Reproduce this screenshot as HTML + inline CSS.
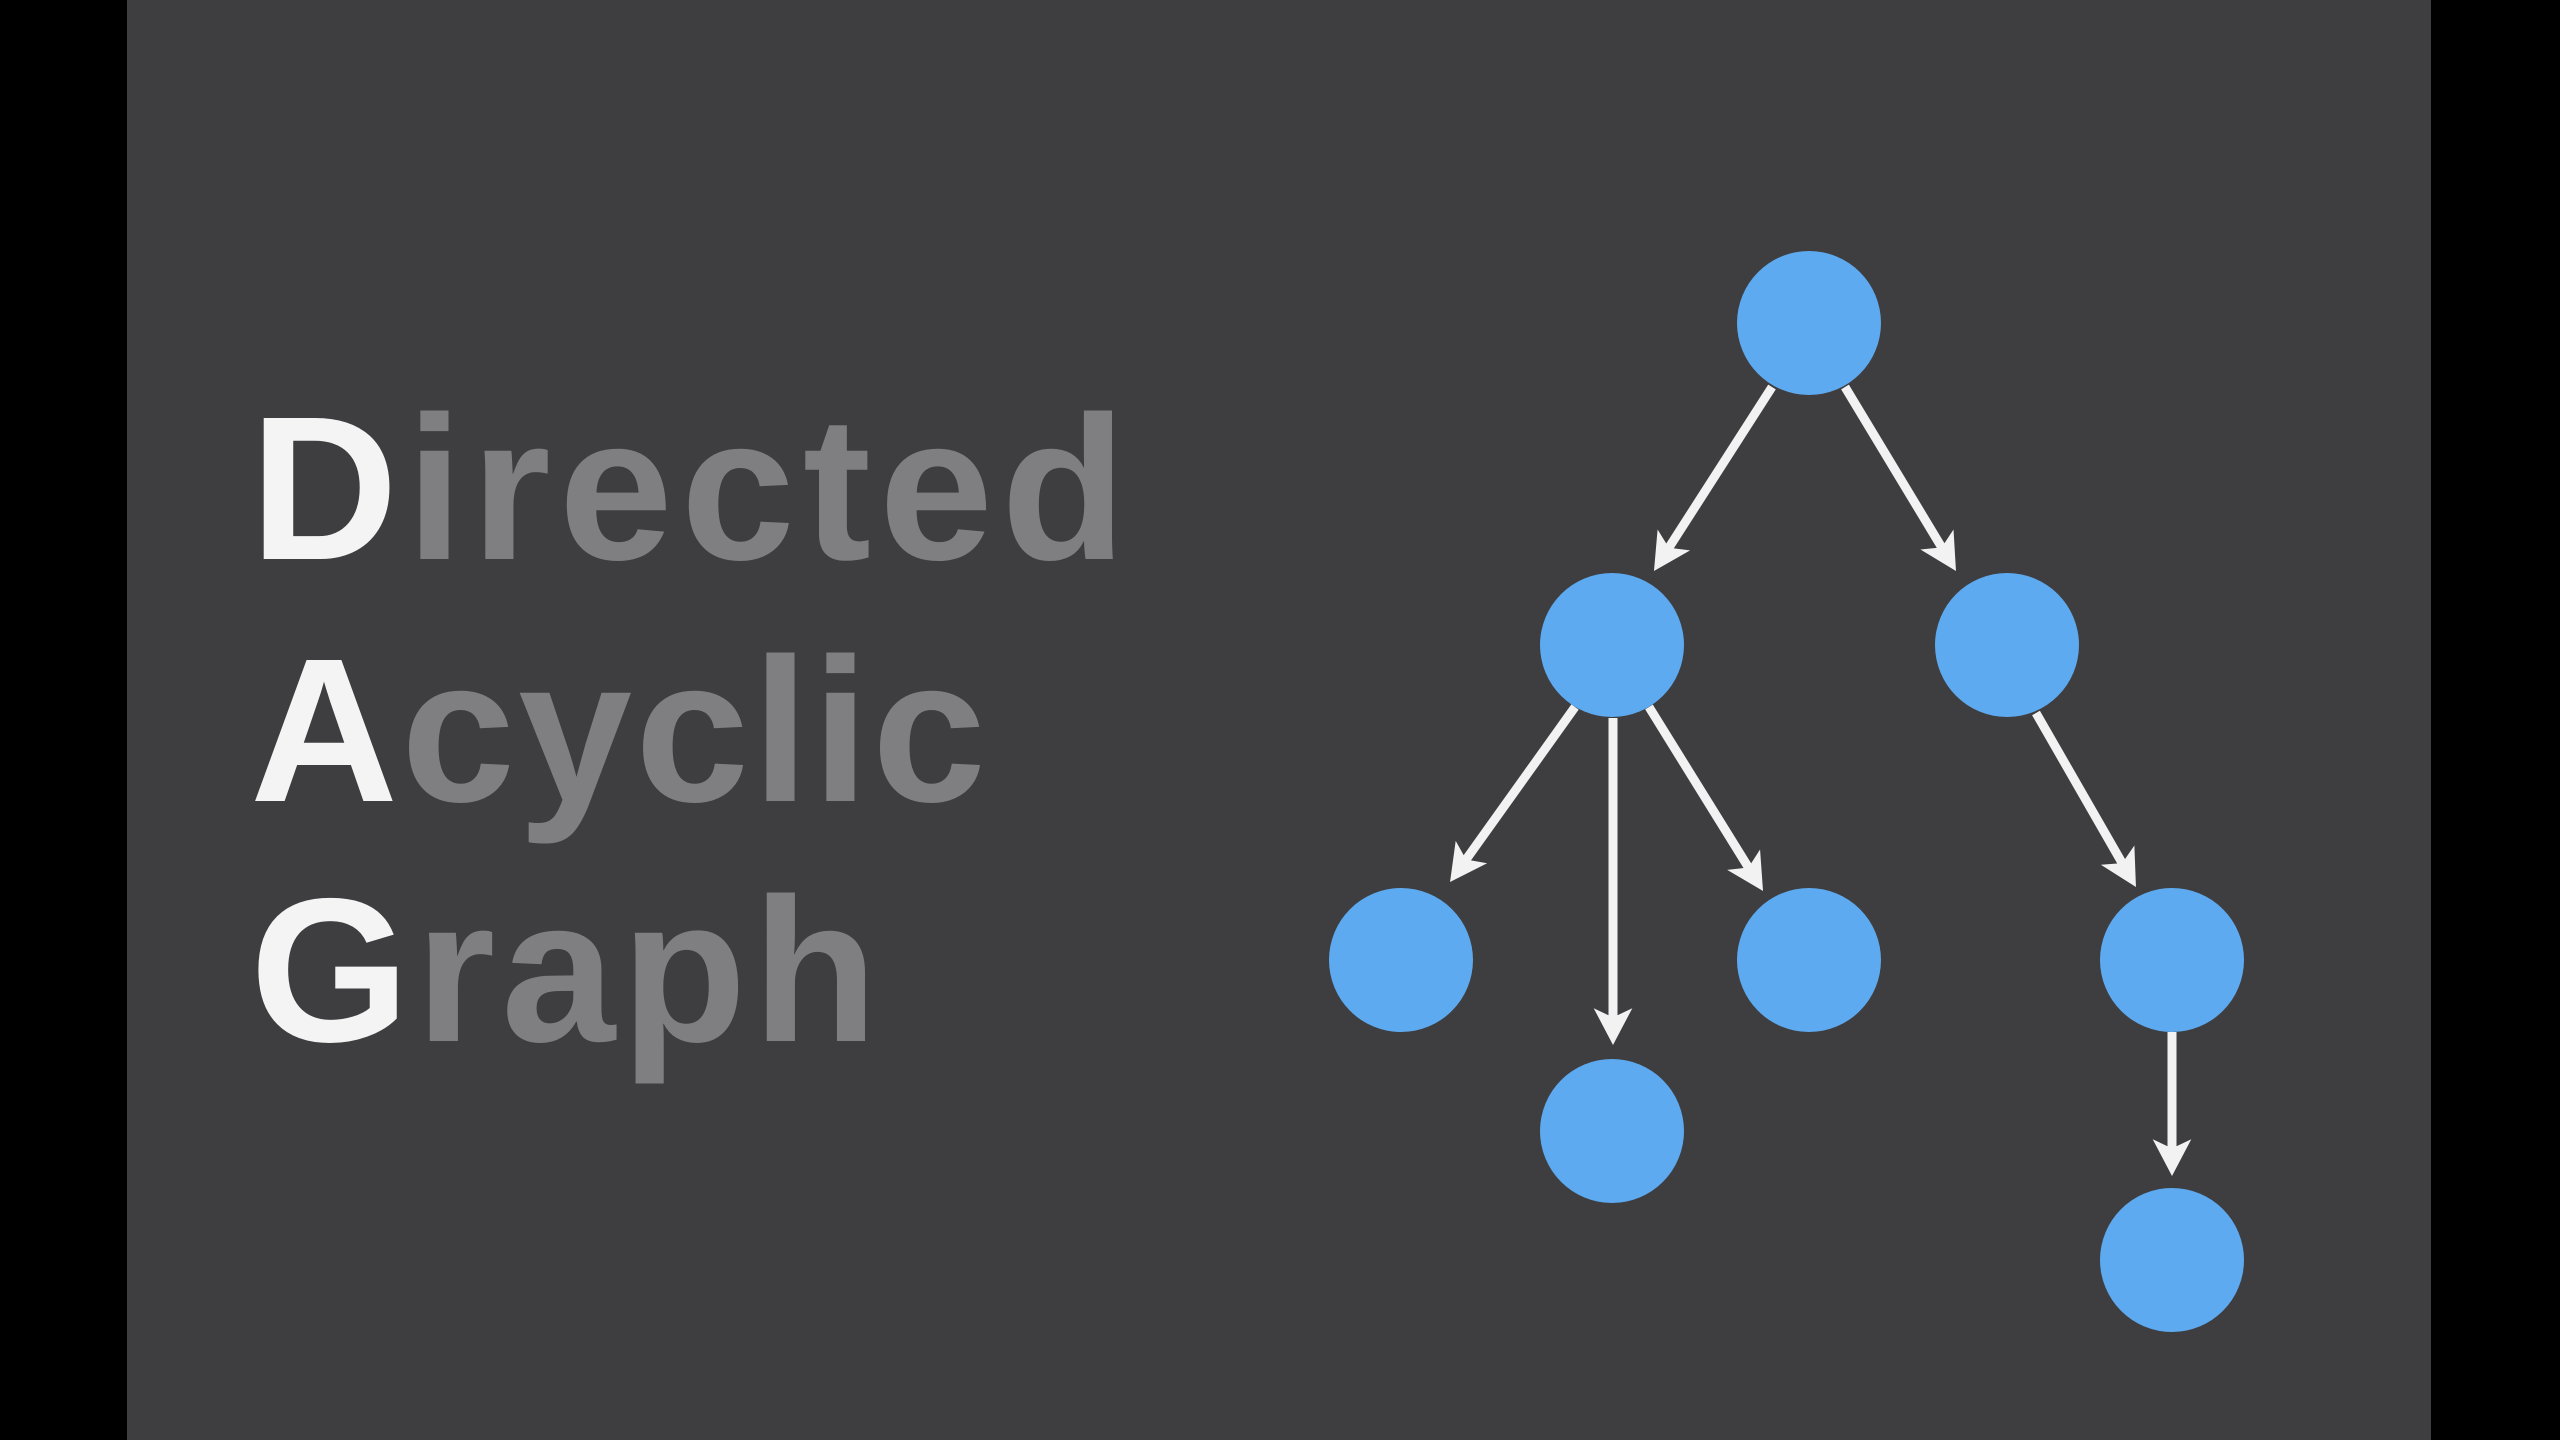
<!DOCTYPE html>
<html><head><meta charset="utf-8"><style>
html,body{margin:0;padding:0;background:#000;}
body{width:2560px;height:1440px;position:relative;overflow:hidden;}
.panel{position:absolute;left:127px;top:0;width:2304px;height:1440px;background:#3e3e40;}
.t{position:absolute;left:250px;font-family:"Liberation Sans",sans-serif;font-weight:bold;font-size:205px;letter-spacing:6px;color:#7f7f81;line-height:1;}
.t b{color:#f4f4f4;}
svg{position:absolute;left:0;top:0;}
</style></head><body>
<div class="panel"></div>
<div class="t" style="top:386px;letter-spacing:8px"><b>D</b>irected</div>
<div class="t" style="top:628px;letter-spacing:3px"><b>A</b>cyclic</div>
<div class="t" style="top:868px"><b>G</b>raph</div>
<svg width="2560" height="1440" viewBox="0 0 2560 1440">
<defs><marker id="a" viewBox="0 0 10 10" refX="4" refY="5" markerWidth="46" markerHeight="46" orient="auto" markerUnits="userSpaceOnUse">
<path d="M1,0.8 L9,5 L1,9.2 L3,5 Z" fill="#f2f2f2"/>
</marker></defs>
<g stroke="#f2f2f2" stroke-width="9" fill="none" marker-end="url(#a)">
<line x1="1772" y1="387" x2="1666.4" y2="551.6"/>
<line x1="1845" y1="387" x2="1944.1" y2="551.3"/>
<line x1="1575" y1="707" x2="1463.4" y2="863.3"/>
<line x1="1613" y1="718" x2="1613" y2="1022"/>
<line x1="1649" y1="707" x2="1750.9" y2="871.4"/>
<line x1="2036" y1="713" x2="2124.5" y2="867.1"/>
<line x1="2172" y1="1032" x2="2172" y2="1153"/>
</g>
<g fill="#5eaaf0">
<circle cx="1809" cy="323" r="72"/>
<circle cx="1612" cy="645" r="72"/>
<circle cx="2007" cy="645" r="72"/>
<circle cx="1401" cy="960" r="72"/>
<circle cx="1809" cy="960" r="72"/>
<circle cx="1612" cy="1131" r="72"/>
<circle cx="2172" cy="960" r="72"/>
<circle cx="2172" cy="1260" r="72"/>
</g>
</svg>
</body></html>
